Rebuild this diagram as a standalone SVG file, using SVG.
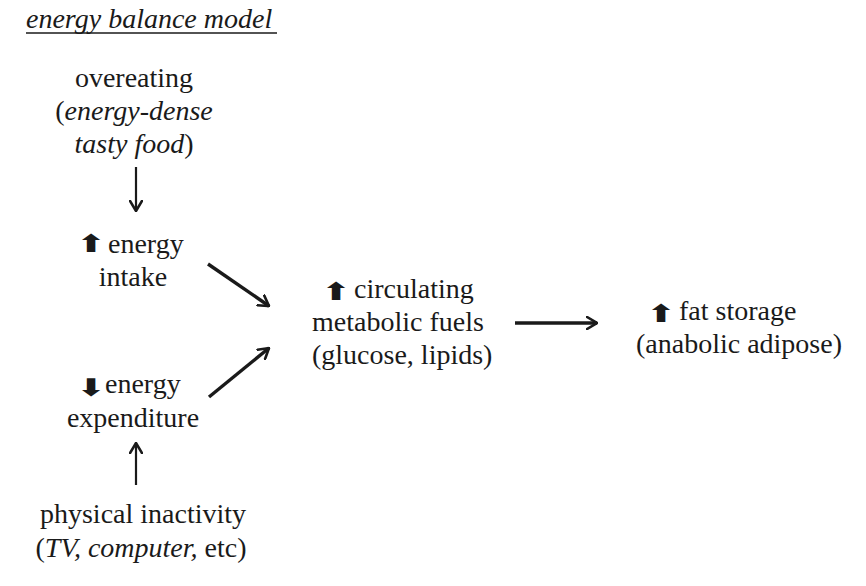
<svg xmlns="http://www.w3.org/2000/svg" width="866" height="586" viewBox="0 0 866 586">
<style>
text{font-family:"Times New Roman","Liberation Serif","Noto Serif","DejaVu Serif",serif;font-size:28px;fill:#1a1a1a}
.it{font-style:italic}
.ic{font-family:"DejaVu Sans",sans-serif;font-size:34px;font-weight:bold}
.c{text-anchor:middle}
.thin{stroke:#1a1a1a;stroke-width:2.2;fill:none}
.thick{stroke:#1a1a1a;stroke-width:3.4;fill:none}
</style>
<defs>
<marker id="ah" viewBox="0 0 12 14" refX="11" refY="7" markerWidth="12" markerHeight="14" markerUnits="userSpaceOnUse" orient="auto">
<path d="M1,1 L11,7 L1,13" fill="none" stroke="#1a1a1a" stroke-width="2.6" stroke-linecap="round" stroke-linejoin="miter"/>
</marker>
</defs>
<rect width="866" height="586" fill="#ffffff"/>
<g id="title">
<text x="26" y="28" class="it">energy balance model</text>
<line x1="26" y1="33" x2="277" y2="33" stroke="#1a1a1a" stroke-width="1.5"/>
</g>
<g id="overeating">
<text x="134" y="87" class="c">overeating</text>
<text x="134" y="120" class="c">(<tspan class="it">energy-dense</tspan></text>
<text x="134" y="153" class="c"><tspan class="it">tasty food</tspan>)</text>
</g>
<g id="intake">
<text class="ic" transform="translate(77,252) scale(1,0.72)">⬆</text>
<text x="108" y="253">energy</text>
<text x="133" y="286" class="c">intake</text>
</g>
<g id="expenditure">
<text class="ic" transform="translate(77,396) scale(1,0.72)">⬇</text>
<text x="105" y="393">energy</text>
<text x="133" y="427" class="c">expenditure</text>
</g>
<g id="inactivity">
<text x="143" y="523" class="c">physical inactivity</text>
<text x="141" y="557" class="c">(<tspan class="it">TV, computer,</tspan> etc)</text>
</g>
<g id="fuels">
<text class="ic" transform="translate(322,300) scale(1,0.72)">⬆</text>
<text x="354" y="298">circulating</text>
<text x="312" y="331">metabolic fuels</text>
<text x="312" y="364">(glucose, lipids)</text>
</g>
<g id="fat">
<text class="ic" transform="translate(647,322) scale(1,0.72)">⬆</text>
<text x="679" y="320">fat storage</text>
<text x="636" y="353">(anabolic adipose)</text>
</g>
<g id="connectors">
<line class="thin" x1="136" y1="167" x2="136" y2="211" marker-end="url(#ah)"/>
<line class="thin" x1="136" y1="485" x2="136" y2="443" marker-end="url(#ah)"/>
<line class="thick" x1="208" y1="264" x2="269" y2="306" marker-end="url(#ah)"/>
<line class="thick" x1="209" y1="397" x2="269" y2="348" marker-end="url(#ah)"/>
<line class="thick" x1="515" y1="323" x2="597" y2="323" marker-end="url(#ah)"/>
</g>
</svg>
